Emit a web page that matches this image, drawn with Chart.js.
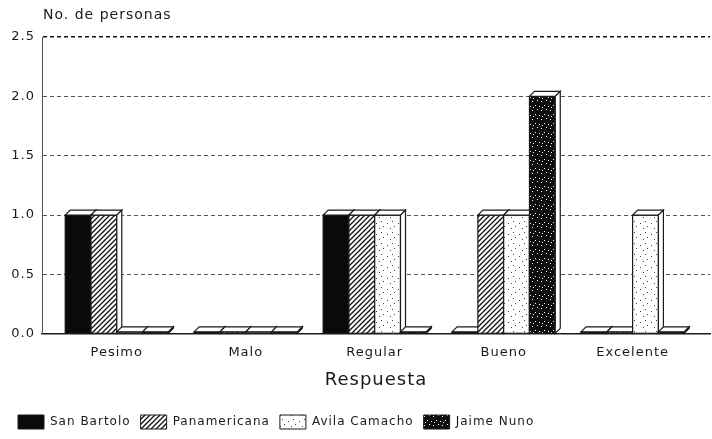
<!DOCTYPE html>
<html>
<head>
<meta charset="utf-8">
<script src="https://cdn.jsdelivr.net/npm/chart.js@4.4.0/dist/chart.umd.min.js"></script>
<style>
  html, body { margin: 0; padding: 0; background: #fff; }
  #wrap { width: 712px; height: 439px; }
</style>
</head>
<body>
<div id="wrap"><canvas id="chart"></canvas></div>
<script>
const categories = ["Pesimo", "Malo", "Regular", "Bueno", "Excelente"];
const seriesNames = ["San Bartolo", "Panamericana", "Avila Camacho", "Jaime Nuno"];
const sanBartolo = [1, 0, 1, 0, 0];
const panamericana = [1, 0, 1, 1, 0];
const avilaCamacho = [0, 0, 1, 1, 1];
const jaimeNuno = [0, 0, 0, 2, 0];
const yTicks = [0, 0.5, 1, 1.5, 2, 2.5];

const FONT = "'DejaVu Sans', 'Liberation Sans', sans-serif";
const INK = "#1a1a1a";

// fill patterns for the scanned look
function makeTile(size, draw) {
  const c = document.createElement("canvas");
  c.width = size;
  c.height = size;
  draw(c.getContext("2d"), size);
  return document.createElement("canvas").getContext("2d").createPattern(c, "repeat");
}

const hatch = makeTile(5, (g, s) => {
  g.fillStyle = "#fff";
  g.fillRect(0, 0, s, s);
  g.strokeStyle = "#111";
  g.lineWidth = 1.3;
  g.beginPath();
  g.moveTo(-1, s + 1); g.lineTo(s + 1, -1);
  g.moveTo(-1, 1); g.lineTo(1, -1);
  g.moveTo(s - 1, s + 1); g.lineTo(s + 1, s - 1);
  g.stroke();
});

const dotsLight = makeTile(11, (g, s) => {
  g.fillStyle = "#fff";
  g.fillRect(0, 0, s, s);
  g.fillStyle = "#444";
  [[2, 3], [7, 1], [5, 8], [9, 6]].forEach(([x, y]) => g.fillRect(x, y, 1, 1));
});

const dotsDark = makeTile(9, (g, s) => {
  g.fillStyle = "#0d0d0d";
  g.fillRect(0, 0, s, s);
  g.fillStyle = "#fff";
  [[1, 2], [6, 1], [4, 6], [8, 7], [2, 8]].forEach(([x, y]) => g.fillRect(x, y, 1, 1));
});

const fills = ["#0a0a0a", hatch, dotsLight, dotsDark];
const seriesData = [sanBartolo, panamericana, avilaCamacho, jaimeNuno];

const depth = 5;

// redraw every bar left to right with a top and a side face
const bars3d = {
  id: "bars3d",
  afterDatasetsDraw(chart) {
    const ctx = chart.ctx;
    ctx.save();
    ctx.strokeStyle = INK;
    ctx.lineWidth = 1.2;
    categories.forEach((_, i) => {
      chart.data.datasets.forEach((ds, d) => {
        const bar = chart.getDatasetMeta(d).data[i];
        const { x, y, base, width } = bar.getProps(["x", "y", "base", "width"], true);
        const l = x - width / 2, r = x + width / 2;
        const top = Math.min(y, base);
        const bottom = Math.max(y, base);
        ctx.fillStyle = ds.backgroundColor;
        ctx.fillRect(l, top, width, bottom - top);
        ctx.strokeRect(l, top, width, bottom - top);
        ctx.fillStyle = "#fff";
        ctx.beginPath();
        ctx.moveTo(l, top);
        ctx.lineTo(l + depth, top - depth);
        ctx.lineTo(r + depth, top - depth);
        ctx.lineTo(r, top);
        ctx.closePath();
        ctx.fill();
        ctx.stroke();
        ctx.beginPath();
        ctx.moveTo(r, top);
        ctx.lineTo(r + depth, top - depth);
        ctx.lineTo(r + depth, bottom - depth);
        ctx.lineTo(r, bottom);
        ctx.closePath();
        ctx.fill();
        ctx.stroke();
      });
    });
    ctx.restore();
  },
};

const spacing = {
  id: "spacing",
  beforeUpdate(chart) { chart.ctx.letterSpacing = "1px"; },
  beforeDraw(chart) { chart.ctx.letterSpacing = "1px"; },
};

// y-axis title sits above the plot, left aligned with the axis
const yTitle = {
  id: "yTitle",
  afterDraw(chart) {
    const ctx = chart.ctx;
    ctx.save();
    ctx.letterSpacing = "1px";
    ctx.font = "14px " + FONT;
    ctx.fillStyle = INK;
    ctx.textBaseline = "middle";
    ctx.fillText("No. de personas", chart.chartArea.left + 1, 15);
    ctx.restore();
  },
};

new Chart(document.getElementById("chart"), {
  type: "bar",
  data: {
    datasets: seriesNames.map((name, d) => ({
      label: name,
      data: seriesData[d].map((v, i) => ({ x: i, y: v })),
      backgroundColor: fills[d],
      borderColor: INK,
      borderWidth: 1,
      minBarLength: 2,
      categoryPercentage: 0.8,
      barPercentage: 1,
    })),
  },
  options: {
    responsive: true,
    maintainAspectRatio: false,
    animation: false,
    layout: { padding: { top: 37, right: 2, left: 8, bottom: 0 } },
    plugins: {
      tooltip: { enabled: false },
      legend: {
        position: "bottom",
        align: "start",
        labels: {
          boxWidth: 26,
          boxHeight: 14,
          padding: 10,
          color: INK,
          font: { family: FONT, size: 12 },
        },
      },
    },
    scales: {
      x: {
        type: "linear",
        min: -0.58,
        max: 4.6,
        offset: false,
        afterBuildTicks: (axis) => {
          axis.ticks = categories.map((_, i) => ({ value: i }));
        },
        ticks: {
          autoSkip: false,
          maxRotation: 0,
          color: INK,
          padding: 11,
          font: { family: FONT, size: 13 },
          callback: (v) => categories[v],
        },
        grid: { display: false, drawTicks: false },
        border: { display: true, color: INK, width: 1.5 },
        title: {
          display: true,
          text: "Respuesta",
          color: INK,
          font: { family: FONT, size: 18 },
          padding: { top: -2, bottom: 14 },
        },
      },
      y: {
        min: 0,
        max: 2.5,
        afterBuildTicks: (axis) => {
          axis.ticks = yTicks.map((v) => ({ value: v }));
        },
        afterFit: (scale) => { scale.width = 34; },
        ticks: {
          color: INK,
          padding: 7,
          font: { family: FONT, size: 13 },
          callback: (v) => v.toFixed(1),
        },
        grid: {
          drawTicks: false,
          color: (c) => (c.tick && c.tick.value === 2.5 ? "#111" : "#555"),
          lineWidth: (c) => (c.tick && c.tick.value === 2.5 ? 1.5 : 1),
        },
        border: { display: true, color: "#555", width: 1, dash: [4, 3] },
      },
    },
  },
  plugins: [spacing, bars3d, yTitle],
});
</script>
</body>
</html>
